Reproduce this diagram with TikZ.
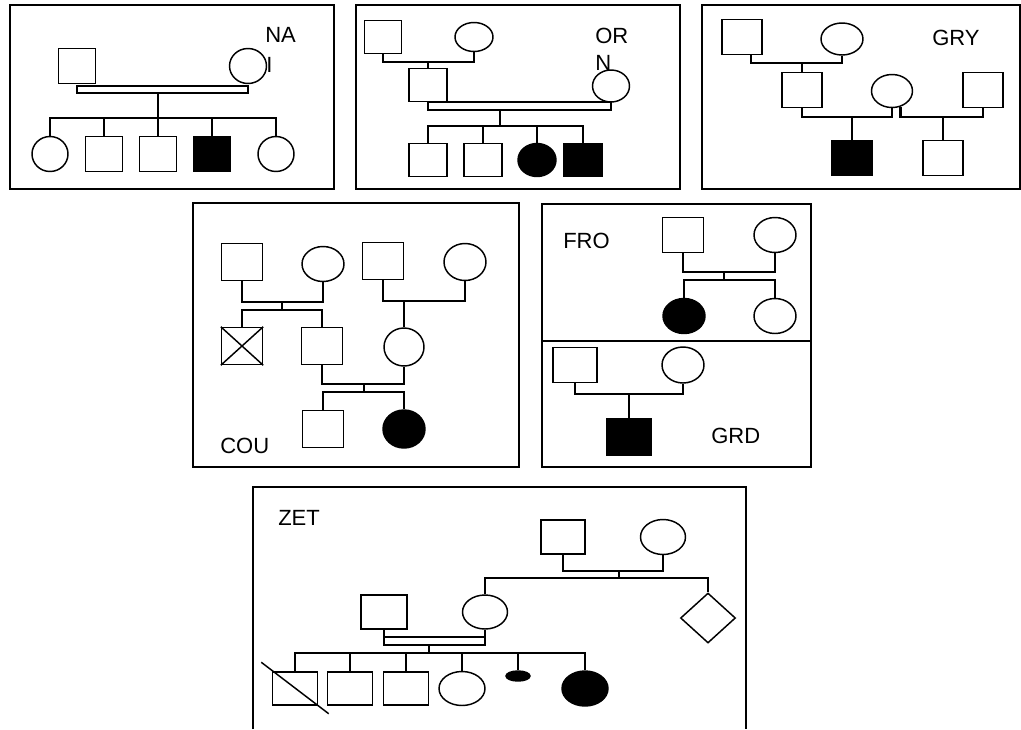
\documentclass[tikz,border=0pt]{standalone}
\usepackage{fontspec}
\setmainfont{Liberation Sans}
\usetikzlibrary{positioning, shapes.geometric}

\tikzset{
  link/.style={line width=1.7pt},
  frame/.style={line width=1.2pt},
  male/.style={draw, rectangle, line width=1.1pt, inner sep=0pt},
  female/.style={draw, ellipse, line width=1.1pt, inner sep=0pt},
  unknown/.style={draw, diamond, line width=1.1pt, inner sep=0pt},
  affected/.style={fill=black},
  sz/.style 2 args={minimum width=#1*0.75pt, minimum height=#2*0.75pt},
  lbl/.style={font=\fontsize{16.5}{21}\selectfont, inner sep=0pt}
}

\begin{document}
\begin{tikzpicture}[x=0.75pt, y=-0.75pt]
  \useasboundingbox (0,0) rectangle (1021,729);
  \fill[white] (0,0) rectangle (1021,729);

  % --- NAI
  \draw[frame] (10,5) rectangle (334,189);
  \node[lbl, anchor=base west] (p1t) at (265,42) {NA};
  \node[lbl, anchor=base west] (p1u) at (266,72) {I};
  \node[male, sz={37}{35}] (p1f) at (77,66) {};
  \node[female, sz={37}{35}] (p1m) at (248,66) {};
  \draw[link] (p1f.south |- 0,86) rectangle (p1m.south |- 0,93);
  \coordinate (p1s) at (158,118);
  \node[female, sz={36}{35}] (p1k1) at (50,154) {};
  \node[male, sz={37}{35}] (p1k2) at (104,154) {};
  \node[male, sz={37}{35}] (p1k3) at (158,154) {};
  \node[male, affected, sz={37}{35}] (p1k4) at (212,154) {};
  \node[female, sz={36}{35}] (p1k5) at (276,154) {};
  \draw[link] (p1s |- 0,93) -- (p1s);
  \draw[link] (p1k1.north) |- (p1s) -| (p1k5.north);
  \draw[link] (p1k2.north) -- (p1k2.north |- p1s);
  \draw[link] (p1k3.north) -- (p1k3.north |- p1s);
  \draw[link] (p1k4.north) -- (p1k4.north |- p1s);

  % --- ORN
  \draw[frame] (356,5) rectangle (680,189);
  \node[lbl, anchor=base west] (p2t) at (595,43) {OR};
  \node[lbl, anchor=base west] (p2u) at (595,70) {N};
  \node[male, sz={37}{33}] (p2gf) at (383,37) {};
  \node[female, sz={38}{29}] (p2gm) at (474,37) {};
  \node[male, sz={38}{33}] (p2f) at (428,85) {};
  \node[female, sz={37}{32}] (p2m) at (611,86) {};
  \draw[link] (p2gf.south) -- ++(0,8) -| (p2gm.south);
  \draw[link] (p2f.north) -- (p2f.north |- 0,61);
  \draw[link] (p2f.south) rectangle (p2m.south |- 0,110);
  \coordinate (p2s) at (500,126);
  \node[male, sz={38}{33}] (p2k1) at (428,160) {};
  \node[male, sz={38}{33}] (p2k2) at (483,160) {};
  \node[female, affected, sz={38}{33}] (p2k3) at (537,160) {};
  \node[male, affected, sz={38}{33}] (p2k4) at (583,160) {};
  \draw[link] (p2s |- 0,110) -- (p2s);
  \draw[link] (p2k1.north) |- (p2s) -| (p2k4.north);
  \draw[link] (p2k2.north) -- (p2k2.north |- p2s);
  \draw[link] (p2k3.north) -- (p2k3.north |- p2s);

  % --- GRY
  \draw[frame] (702,5) rectangle (1020,189);
  \node[lbl, anchor=base west] (p3t) at (932,45) {GRY};
  \node[male, sz={40}{35}] (p3gf) at (742,37) {};
  \node[female, sz={42}{32}] (p3gm) at (842,39) {};
  \node[male, sz={40}{35}] (p3s) at (802,90) {};
  \node[female, sz={41}{33}] (p3w) at (892,91) {};
  \node[male, sz={40}{35}] (p3h) at (983,90) {};
  \draw[link] (p3gf.south -| 751,0) -- (751,63) -| (p3gm.south);
  \draw[link] (p3s.north) -- (p3s.north |- 0,63);
  \draw[link] (p3s.south) -- ++(0,9) -| (p3w.south);
  \draw[link] (p3h.south) -- ++(0,9) -| (p3w.-62);
  \node[male, affected, sz={41}{35}] (p3k1) at (852,158) {};
  \node[male, sz={40}{35}] (p3k2) at (943,158) {};
  \draw[link] (p3k1.north) -- (p3k1.north |- 0,116);
  \draw[link] (p3k2.north) -- (p3k2.north |- 0,116);

  % --- COU
  \draw[frame] (193,203) rectangle (519,467);
  \node[lbl, anchor=base west] (p4t) at (220,453) {COU};
  \node[male, sz={41}{37}] (p4a) at (242,262) {};
  \node[female, sz={42}{35}] (p4b) at (323,264) {};
  \node[male, sz={41}{37}] (p4d) at (383,261) {};
  \node[female, sz={42}{37}] (p4e) at (465,262) {};
  \node[male, sz={41}{37}] (p4x) at (242,346) {};
  \draw[line width=1.1pt] (p4x.north west) -- (p4x.south east)
    (p4x.north east) -- (p4x.south west);
  \node[male, sz={41}{37}] (p4c) at (322,346) {};
  \node[female, sz={40}{38}] (p4w) at (404,347) {};
  \draw[link] (p4a.south) -- ++(0,20.5) -| (p4b.south);
  \coordinate (p4s1) at (282,310);
  \draw[link] (p4s1 |- 0,301) -- (p4s1);
  \draw[link] (p4x.north) |- (p4s1) -| (p4c.north);
  \draw[link] (p4d.south) -- ++(0,20.5) -| (p4e.south);
  \draw[link] (p4w.north) -- (p4w.north |- 0,300);
  \draw[link] (p4c.south) -- ++(0,18.5) -| (p4w.south);
  \coordinate (p4s2) at (364,392);
  \node[male, sz={41}{37}] (p4k1) at (323,429) {};
  \node[female, affected, sz={42}{38}] (p4k2) at (404,429) {};
  \draw[link] (p4s2 |- 0,383) -- (p4s2);
  \draw[link] (p4k1.north) |- (p4s2) -| (p4k2.north);

  % --- FRO / GRD
  \draw[frame] (542,204) rectangle (811,467);
  \draw[frame] (542,341) -- (811,341);
  \node[lbl, anchor=base west] (p5t) at (563,248) {FRO};
  \node[male, sz={41}{35}] (p5f) at (683,235) {};
  \node[female, sz={42}{35}] (p5m) at (775,235) {};
  \draw[link] (p5f.south) -- ++(0,18.5) -| (p5m.south);
  \coordinate (p5s) at (724,280);
  \node[female, affected, sz={42}{35}] (p5k1) at (684,316) {};
  \node[female, sz={42}{35}] (p5k2) at (775,316) {};
  \draw[link] (p5s |- 0,271) -- (p5s);
  \draw[link] (p5k1.north) |- (p5s) -| (p5k2.north);
  \node[lbl, anchor=base west] (p5u) at (711,443) {GRD};
  \node[male, sz={44}{35}] (p5g) at (575,365) {};
  \node[female, sz={42}{36}] (p5h) at (683,365) {};
  \node[male, affected, sz={44}{37}] (p5k3) at (629,437) {};
  \draw[link] (p5g.south) -- ++(0,10.5) -| (p5h.south);
  \draw[link] (p5k3.north) -- (p5k3.north |- 0,393);

  % --- ZET
  \draw[frame] (253,729) -- (253,487) -- (746,487) -- (746,729);
  \node[lbl, anchor=base west] (p6t) at (278,525) {ZET};
  \node[male, sz={44}{34}] (p6gf) at (563,537) {};
  \node[female, sz={45}{35}] (p6gm) at (663,537) {};
  \draw[link] (p6gf.south) -- ++(0,16) -| (p6gm.south);
  \coordinate (p6s1) at (619,578);
  \node[female, sz={45}{34}] (p6m) at (485,612) {};
  \node[unknown, sz={55}{50}] (p6u) at (708,618) {};
  \draw[link] (p6s1 |- 0,570) -- (p6s1);
  \draw[link] (p6m.north) |- (p6s1) -| (p6u.north);
  \node[male, sz={46}{34}] (p6f) at (384,612) {};
  \draw[link] (p6f.south) |- (p6m.south |- 0,645) -- (p6m.south);
  \draw[link] (p6f.south |- 0,637) -- (p6m.south |- 0,637);
  \coordinate (p6s2) at (429,653);
  \draw[link] (p6s2 |- 0,645) -- (p6s2);
  \node[male, sz={45}{33}] (p6k1) at (295,688.5) {};
  \draw[line width=1.1pt] ([shift={(-10.5,-9)}]p6k1.north west)
    -- ([shift={(10.5,8)}]p6k1.south east);
  \node[male, sz={45}{33}] (p6k2) at (350,688.5) {};
  \node[male, sz={45}{33}] (p6k3) at (406,688.5) {};
  \node[female, sz={46}{34}] (p6k4) at (462,688.5) {};
  \node[female, affected, sz={24}{10}] (p6k5) at (518,676) {};
  \node[female, affected, sz={46}{35}] (p6k6) at (585,688.5) {};
  \draw[link] (p6k1.north) |- (p6s2) -| (p6k6.north);
  \draw[link] (p6k2.north) -- (p6k2.north |- p6s2);
  \draw[link] (p6k3.north) -- (p6k3.north |- p6s2);
  \draw[link] (p6k4.north) -- (p6k4.north |- p6s2);
  \draw[link] (p6k5.north) -- (p6k5.north |- p6s2);
\end{tikzpicture}
\end{document}
